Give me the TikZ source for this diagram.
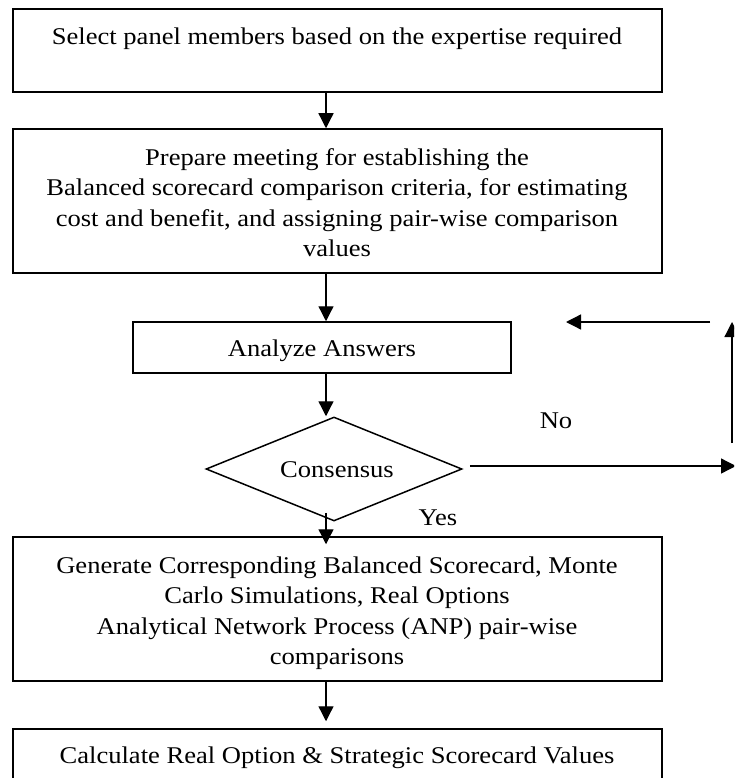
\documentclass[tikz,border=0pt]{standalone}
\usepackage{fontspec}
\setmainfont[FakeStretch=1.107]{Liberation Serif}
\usetikzlibrary{shapes.geometric,arrows.meta,calc}
\newcommand\flowfont{\fontsize{24}{30.5}\selectfont}
\tikzset{
  box/.style={draw, line width=1.5pt, rectangle, inner sep=0pt},
  decision/.style={draw, line width=1.5pt, diamond, inner sep=0pt},
  lbl/.style={inner sep=0pt, font=\flowfont, align=center},
  arr/.style={line width=1.3pt, -{Triangle[length=15pt,width=15pt]}},
}
\begin{document}
\begin{tikzpicture}[x=1pt,y=-1pt]
\useasboundingbox (0,0) rectangle (734,778);
\clip (0,0) rectangle (734,778);

% process boxes
\node[box, minimum width=649pt, minimum height=83pt]  (b1) at (337.5,50.5) {};
\node[box, minimum width=649pt, minimum height=144pt] (b2) at (337.5,201) {};
\node[box, minimum width=378pt, minimum height=51pt]  (b3) at (322,347.5) {};
\node[decision, minimum width=256pt, minimum height=104pt] (dia) at (334,469) {};
\node[box, minimum width=649pt, minimum height=144pt] (b4) at (337.5,609) {};
\node[box, minimum width=649pt, minimum height=71pt]  (b5) at (337.5,764.5) {};

% box texts
\node[lbl, anchor=base] (t1) at (337,45) {Select panel members based on the expertise required};
\node[lbl] (t2) at (337,202.8) {Prepare meeting for establishing the\\
  Balanced scorecard comparison criteria, for estimating\\
  cost and benefit, and assigning pair-wise comparison\\
  values};
\node[lbl, anchor=base] (t3) at (322,356) {Analyze Answers};
\node[lbl, anchor=base] (tc) at (337,477) {Consensus};
\node[lbl] (t4) at (337,613.2) {Generate Corresponding Balanced Scorecard, Monte\\
  Carlo Simulations, Real Options\\
  Analytical Network Process (ANP) pair-wise\\
  comparisons};
\node[lbl, anchor=base] (t5) at (337,763) {Calculate Real Option \& Strategic Scorecard Values};

% branch labels
\node[lbl, anchor=base] (no)  at (556,428) {No};
\node[lbl, anchor=base] (yes) at (438,525) {Yes};

% main flow
\coordinate (ax) at (326,0);
\draw[arr] (b1.south -| ax) -- (b2.north -| ax);
\draw[arr] (b2.south -| ax) -- (b3.north -| ax);
\draw[arr] (b3.south -| ax) -- (dia.north -| ax);
\draw[arr] ($(dia.south -| ax)+(0,-9)$) -- ($(b4.north -| ax)+(0,8)$);
\draw[arr] (b4.south -| ax) -- ($(b5.north -| ax)+(0,-7)$);

% "No" feedback loop
\coordinate (nEnd) at (736,466);
\coordinate (uStart) at (732,443);
\coordinate (uEnd) at (732,322);
\coordinate (lStart) at (710,322);
\coordinate (lEnd) at (566,322);
\draw[arr] ($(dia.east)+(7,-3)$) -- (nEnd);
\draw[arr] (uStart) -- (uEnd);
\draw[arr] (lStart) -- (lEnd);
\end{tikzpicture}
\end{document}
